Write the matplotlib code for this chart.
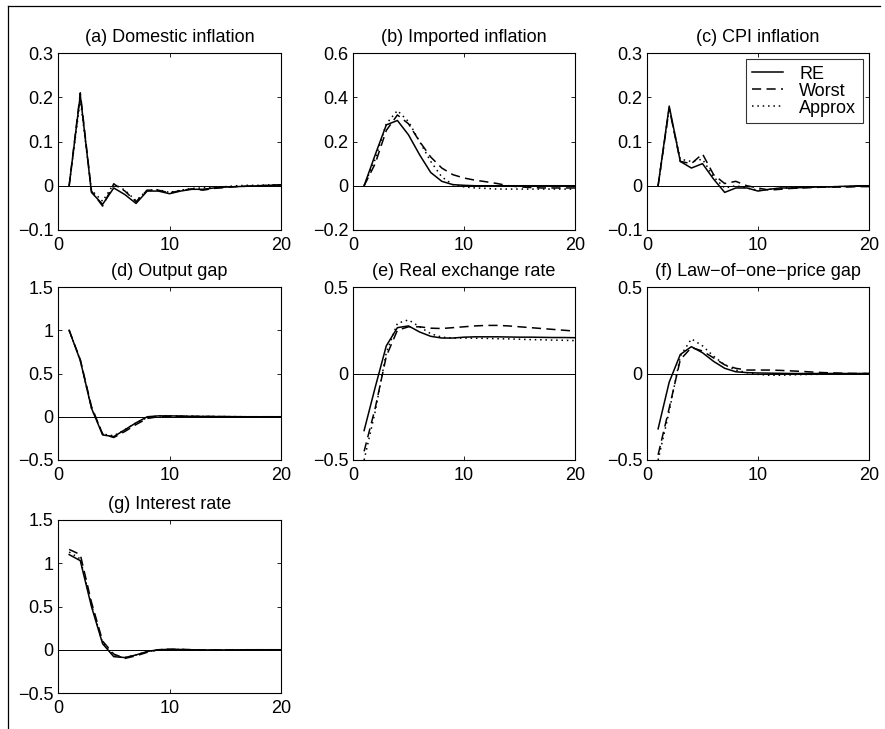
import numpy as np
import matplotlib
matplotlib.use("Agg")
import matplotlib.pyplot as plt
from matplotlib.lines import Line2D

plt.rcParams["font.family"] = ["Liberation Sans", "DejaVu Sans"]
plt.rcParams["font.size"] = 13
plt.rcParams["axes.unicode_minus"] = True

periods = np.arange(1, 21)

# (a) Domestic inflation
dom_re = [0, 0.205, -0.015, -0.042, -0.005, -0.02, -0.04, -0.012, -0.012, -0.018,
          -0.012, -0.008, -0.008, -0.005, -0.003, -0.002, -0.001, 0.0, 0.001, 0.002]
dom_worst = [0, 0.21, -0.012, -0.046, 0.004, -0.012, -0.036, -0.01, -0.01, -0.016,
             -0.011, -0.007, -0.01, -0.006, -0.004, -0.002, -0.001, 0.0, 0.001, 0.002]
dom_approx = [0, 0.195, -0.01, -0.035, 0.004, -0.01, -0.034, -0.01, -0.009, -0.015,
              -0.01, -0.006, -0.005, -0.003, -0.002, 0.0, 0.001, 0.001, 0.002, 0.002]

# (b) Imported inflation
imp_re = [0, 0.14, 0.275, 0.295, 0.23, 0.14, 0.06, 0.02, 0.005, 0.002,
          0.0, 0.0, 0.0, 0.0, 0.0, 0.0, 0.0, 0.0, 0.0, 0.0]
imp_worst = [0, 0.1, 0.25, 0.32, 0.28, 0.2, 0.13, 0.08, 0.05, 0.035,
             0.025, 0.018, 0.01, 0.0, -0.005, -0.008, -0.01, -0.01, -0.01, -0.01]
imp_approx = [0, 0.12, 0.28, 0.34, 0.29, 0.2, 0.11, 0.04, 0.005, -0.005,
              -0.01, -0.012, -0.015, -0.015, -0.015, -0.015, -0.015, -0.015, -0.015, -0.015]

# (c) CPI inflation
cpi_re = [0, 0.18, 0.055, 0.04, 0.05, 0.015, -0.015, -0.005, -0.005, -0.012,
          -0.008, -0.005, -0.005, -0.004, -0.003, -0.003, -0.002, -0.001, 0.0, 0.0]
cpi_worst = [0, 0.175, 0.055, 0.05, 0.072, 0.025, 0.005, 0.01, 0.0, -0.005,
             -0.01, -0.008, -0.006, -0.005, -0.004, -0.003, -0.003, -0.003, -0.002, -0.002]
cpi_approx = [0, 0.175, 0.06, 0.055, 0.06, 0.02, -0.005, 0.0, -0.005, -0.01,
              -0.008, -0.006, -0.005, -0.004, -0.003, -0.003, -0.002, -0.002, -0.001, -0.001]

# (d) Output gap
gap_re = [1.0, 0.65, 0.1, -0.21, -0.23, -0.15, -0.07, 0.0, 0.01, 0.01,
          0.008, 0.005, 0.004, 0.003, 0.002, 0.001, 0.0, 0.0, 0.0, 0.0]
gap_worst = [1.0, 0.66, 0.12, -0.2, -0.24, -0.17, -0.09, -0.02, 0.0, 0.005,
             0.005, 0.004, 0.003, 0.002, 0.001, 0.0, 0.0, 0.0, 0.0, 0.0]
gap_approx = [1.0, 0.65, 0.1, -0.2, -0.22, -0.15, -0.07, -0.01, 0.01, 0.01,
              0.008, 0.006, 0.004, 0.003, 0.002, 0.001, 0.0, 0.0, 0.0, 0.0]

# (e) Real exchange rate
rer_re = [-0.33, -0.08, 0.16, 0.265, 0.275, 0.24, 0.215, 0.205, 0.205, 0.21,
          0.212, 0.212, 0.212, 0.211, 0.21, 0.21, 0.209, 0.208, 0.208, 0.207]
rer_worst = [-0.45, -0.2, 0.1, 0.25, 0.27, 0.27, 0.262, 0.26, 0.265, 0.27,
             0.275, 0.278, 0.278, 0.275, 0.27, 0.265, 0.26, 0.255, 0.25, 0.245]
rer_approx = [-0.5, -0.22, 0.12, 0.29, 0.31, 0.27, 0.23, 0.21, 0.205, 0.205,
              0.204, 0.203, 0.201, 0.2, 0.198, 0.196, 0.195, 0.193, 0.192, 0.19]

# (f) Law-of-one-price gap
lop_re = [-0.32, -0.05, 0.11, 0.155, 0.12, 0.07, 0.03, 0.01, 0.005, 0.003,
          0.002, 0.001, 0.0, 0.0, 0.0, 0.0, 0.0, 0.0, 0.0, 0.0]
lop_worst = [-0.47, -0.2, 0.08, 0.15, 0.13, 0.09, 0.05, 0.03, 0.02, 0.02,
             0.02, 0.018, 0.015, 0.012, 0.008, 0.005, 0.003, 0.001, 0.0, 0.0]
lop_approx = [-0.5, -0.22, 0.1, 0.2, 0.16, 0.1, 0.05, 0.02, 0.005, -0.005,
              -0.01, -0.01, -0.008, -0.006, -0.005, -0.004, -0.003, -0.002, -0.001, 0.0]

# (g) Interest rate
int_re = [1.1, 1.03, 0.5, 0.07, -0.08, -0.09, -0.06, -0.02, 0.0, 0.005,
          0.003, 0.0, -0.002, -0.002, -0.002, -0.001, 0.0, 0.0, 0.0, 0.0]
int_worst = [1.16, 1.1, 0.55, 0.1, -0.05, -0.1, -0.07, -0.03, 0.0, 0.005,
             0.004, 0.0, -0.003, -0.003, -0.002, -0.001, 0.0, 0.0, 0.0, 0.0]
int_approx = [1.13, 1.05, 0.52, 0.08, -0.07, -0.09, -0.06, -0.02, 0.0, 0.005,
              0.003, 0.0, -0.002, -0.002, -0.002, -0.001, 0.0, 0.0, 0.0, 0.0]

titles = ["(a) Domestic inflation", "(b) Imported inflation", "(c) CPI inflation",
          "(d) Output gap", "(e) Real exchange rate", "(f) Law\u2212of\u2212one\u2212price gap",
          "(g) Interest rate"]
series = [(dom_re, dom_worst, dom_approx), (imp_re, imp_worst, imp_approx),
          (cpi_re, cpi_worst, cpi_approx), (gap_re, gap_worst, gap_approx),
          (rer_re, rer_worst, rer_approx), (lop_re, lop_worst, lop_approx),
          (int_re, int_worst, int_approx)]
yticks = [[-0.1, 0, 0.1, 0.2, 0.3], [-0.2, 0, 0.2, 0.4, 0.6], [-0.1, 0, 0.1, 0.2, 0.3],
          [-0.5, 0, 0.5, 1, 1.5], [-0.5, 0, 0.5], [-0.5, 0, 0.5], [-0.5, 0, 0.5, 1, 1.5]]
ytick_labels = [["\u22120.1", "0", "0.1", "0.2", "0.3"], ["\u22120.2", "0", "0.2", "0.4", "0.6"],
                ["\u22120.1", "0", "0.1", "0.2", "0.3"], ["\u22120.5", "0", "0.5", "1", "1.5"],
                ["\u22120.5", "0", "0.5"], ["\u22120.5", "0", "0.5"],
                ["\u22120.5", "0", "0.5", "1", "1.5"]]
legend_labels = ["RE", "Worst", "Approx"]

W, H = 885, 729
fig = plt.figure(figsize=(W / 100, H / 100), dpi=100)

col_x = [(58, 281), (353, 575), (647, 869)]
row_y = [(53, 230), (287, 460), (520, 693)]

for i in range(7):
    r, c = divmod(i, 3)
    x0, x1 = col_x[c]
    y0, y1 = row_y[r]
    ax = fig.add_axes([x0 / W, 1 - y1 / H, (x1 - x0) / W, (y1 - y0) / H])
    re, worst, approx = series[i]
    ax.axhline(0, color="black", lw=0.7, zorder=1)
    ax.plot(periods, re, "-", color="black", lw=1.1, label=legend_labels[0])
    ax.plot(periods, worst, "--", color="black", lw=1.1, dashes=(6, 3.5),
            label=legend_labels[1])
    ax.plot(periods, approx, ":", color="black", lw=1.1, dashes=(1, 2.5),
            label=legend_labels[2])
    ax.set_xlim(0, 20)
    ax.set_ylim(yticks[i][0], yticks[i][-1])
    ax.set_xticks([0, 10, 20])
    ax.set_yticks(yticks[i])
    ax.set_yticklabels(ytick_labels[i])
    ax.tick_params(direction="in", top=True, right=True, length=3, width=0.6,
                   labelsize=13)
    ax.tick_params(axis="y", pad=3.5)
    ax.tick_params(axis="x", pad=5)
    for sp in ax.spines.values():
        sp.set_linewidth(0.8)
    ax.set_title(titles[i], fontsize=13, pad=8)
    if i == 2:
        leg = ax.legend(loc="upper right", fontsize=13, frameon=True, fancybox=False,
                        borderaxespad=0.35, handlelength=1.7, handletextpad=0.9,
                        labelspacing=0.0, borderpad=0.35)
        leg.get_frame().set_edgecolor("black")
        leg.get_frame().set_linewidth(0.8)

# figure frame lines (top and left)
fig.add_artist(Line2D([8 / W, 880 / W], [1 - 6 / H, 1 - 6 / H], color="black", lw=0.9))
fig.add_artist(Line2D([8 / W, 8 / W], [1 - 6 / H, 0], color="black", lw=0.9))

fig.savefig("out.png", dpi=100)
